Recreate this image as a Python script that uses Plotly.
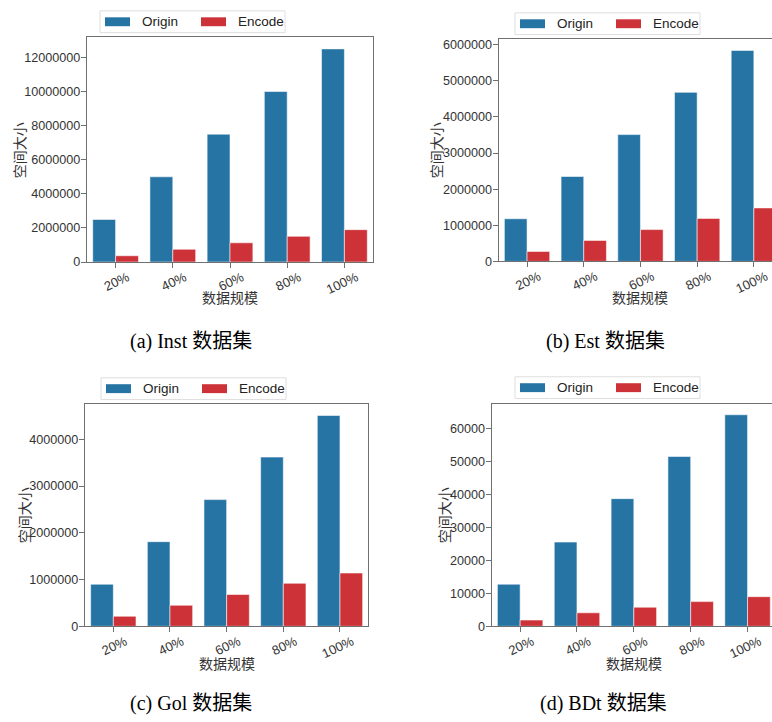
import plotly.graph_objects as go

# ---------------- data ----------------
categories = ["20%", "40%", "60%", "80%", "100%"]
series_names = ["Origin", "Encode"]

inst_origin = [2500000, 5000000, 7500000, 10000000, 12500000]
inst_encode = [370000, 750000, 1130000, 1510000, 1900000]

est_origin = [1180000, 2350000, 3510000, 4680000, 5840000]
est_encode = [275000, 580000, 880000, 1190000, 1480000]

gol_origin = [900000, 1810000, 2710000, 3620000, 4510000]
gol_encode = [215000, 450000, 680000, 920000, 1140000]

bdt_origin = [12800, 25600, 38800, 51600, 64300]
bdt_encode = [1900, 4100, 5800, 7500, 9000]

inst_ticks = [0, 2000000, 4000000, 6000000, 8000000, 10000000, 12000000]
est_ticks = [0, 1000000, 2000000, 3000000, 4000000, 5000000, 6000000]
gol_ticks = [0, 1000000, 2000000, 3000000, 4000000]
bdt_ticks = [0, 10000, 20000, 30000, 40000, 50000, 60000]

captions = ["(a) Inst 数据集", "(b) Est 数据集", "(c) Gol 数据集", "(d) BDt 数据集"]
y_title = "空间大小"
x_title = "数据规模"

# ---------------- styling / layout ----------------
W, H = 772, 722
BLUE = "#2674a4"
RED = "#cc3237"
FRAME = "#707070"
TXT = "#333333"
SANS = "Liberation Sans, Arial, sans-serif"
CJK = "Noto Sans CJK SC, sans-serif"
SERIF = "Liberation Serif, Times New Roman, Noto Sans CJK SC, serif"


def px(x):
    return x / W


def py(y):
    return 1 - y / H


panels = [
    dict(data=(inst_origin, inst_encode), ticks=inst_ticks, ymax=13220000,
         box=(87, 373, 36, 264), xhi=4.5, right=True,
         legend=(100, 10), ytitle=(19, 151), xtitle=(230, 299), caption=(191, 344)),
    dict(data=(est_origin, est_encode), ticks=est_ticks, ymax=6160000,
         box=(498.7, 772, 38.3, 263.3), xhi=4.32, right=False,
         legend=(515, 12), ytitle=(436, 151), xtitle=(640, 299), caption=(605, 344)),
    dict(data=(gol_origin, gol_encode), ticks=gol_ticks, ymax=4760000,
         box=(85, 368.3, 407.3, 632.3), xhi=4.5, right=True,
         legend=(101, 381), ytitle=(24, 520), xtitle=(227, 669), caption=(191, 710)),
    dict(data=(bdt_origin, bdt_encode), ticks=bdt_ticks, ymax=67630,
         box=(491.7, 772, 407.3, 632.3), xhi=4.43, right=False,
         legend=(515, 380), ytitle=(444, 520), xtitle=(634, 669), caption=(603, 710)),
]

fig = go.Figure()
layout = dict(
    width=W, height=H,
    margin=dict(l=0, r=0, t=0, b=0),
    paper_bgcolor="white", plot_bgcolor="white",
    barmode="group", bargap=0.2, bargroupgap=0.0,
    showlegend=False,
    annotations=[], shapes=[],
)

for i, p in enumerate(panels, start=1):
    sfx = "" if i == 1 else str(i)
    for name, vals, col in zip(series_names, p["data"], (BLUE, RED)):
        fig.add_trace(go.Bar(
            x=categories, y=vals, name=name,
            marker=dict(color=col, line=dict(color="rgba(255,255,255,0.55)", width=1)),
            xaxis=f"x{sfx}", yaxis=f"y{sfx}",
        ))
    x0, x1, y0, y1 = p["box"]
    layout[f"xaxis{sfx}"] = dict(
        domain=[px(x0), px(x1)], anchor=f"y{sfx}", type="category",
        range=[-0.5, p["xhi"]],
        showline=True, linecolor=FRAME, linewidth=1.2, mirror=True,
        ticks="outside", ticklen=5, tickcolor=FRAME, tickwidth=1,
        tickangle=-25, tickfont=dict(family=SANS, size=13, color=TXT),
        ticklabelshift=12, ticklabelstandoff=-3,
        showgrid=False, zeroline=False,
    )
    layout[f"yaxis{sfx}"] = dict(
        domain=[py(y1), py(y0)], anchor=f"x{sfx}",
        range=[0, p["ymax"]],
        tickmode="array", tickvals=p["ticks"], ticktext=[str(t) for t in p["ticks"]],
        showline=True, linecolor=FRAME, linewidth=1.2, mirror=p["right"],
        ticks="outside", ticklen=5, tickcolor=FRAME, tickwidth=1,
        tickfont=dict(family=SANS, size=12.6, color=TXT),
        ticklabelstandoff=-2,
        showgrid=False, zeroline=False,
    )
    # legend box (drawn manually to match the reference's proportions)
    lx, ly = p["legend"]
    layout["shapes"].append(dict(
        type="rect", xref="paper", yref="paper",
        x0=px(lx), x1=px(lx + 185), y0=py(ly + 22), y1=py(ly),
        line=dict(color="#dedede", width=1), fillcolor="white", layer="above",
    ))
    for k, (name, col) in enumerate(zip(series_names, (BLUE, RED))):
        off = lx + 5 + 96 * k
        layout["shapes"].append(dict(
            type="rect", xref="paper", yref="paper",
            x0=px(off), x1=px(off + 25), y0=py(ly + 15.5), y1=py(ly + 6.5),
            line=dict(width=0), fillcolor=col, layer="above",
        ))
        layout["annotations"].append(dict(
            text=name, x=px(off + 35), y=py(ly + 11), xref="paper", yref="paper",
            showarrow=False, xanchor="left", yanchor="middle",
            font=dict(family=SANS, size=13.5, color="#222"),
        ))
    tx, ty = p["ytitle"]
    layout["annotations"].append(dict(
        text=y_title, x=px(tx), y=py(ty), xref="paper", yref="paper",
        showarrow=False, textangle=-90, xanchor="center", yanchor="middle",
        font=dict(family=CJK, size=14, color=TXT),
    ))
    tx, ty = p["xtitle"]
    layout["annotations"].append(dict(
        text=x_title, x=px(tx), y=py(ty), xref="paper", yref="paper",
        showarrow=False, xanchor="center", yanchor="middle",
        font=dict(family=CJK, size=14, color=TXT),
    ))
    cx, cy = p["caption"]
    layout["annotations"].append(dict(
        text=captions[i - 1], x=px(cx), y=py(cy), xref="paper", yref="paper",
        showarrow=False, xanchor="center", yanchor="middle",
        font=dict(family=SERIF, size=20, color="black"),
    ))

fig.update_layout(**layout)
fig.write_html("out.html")
